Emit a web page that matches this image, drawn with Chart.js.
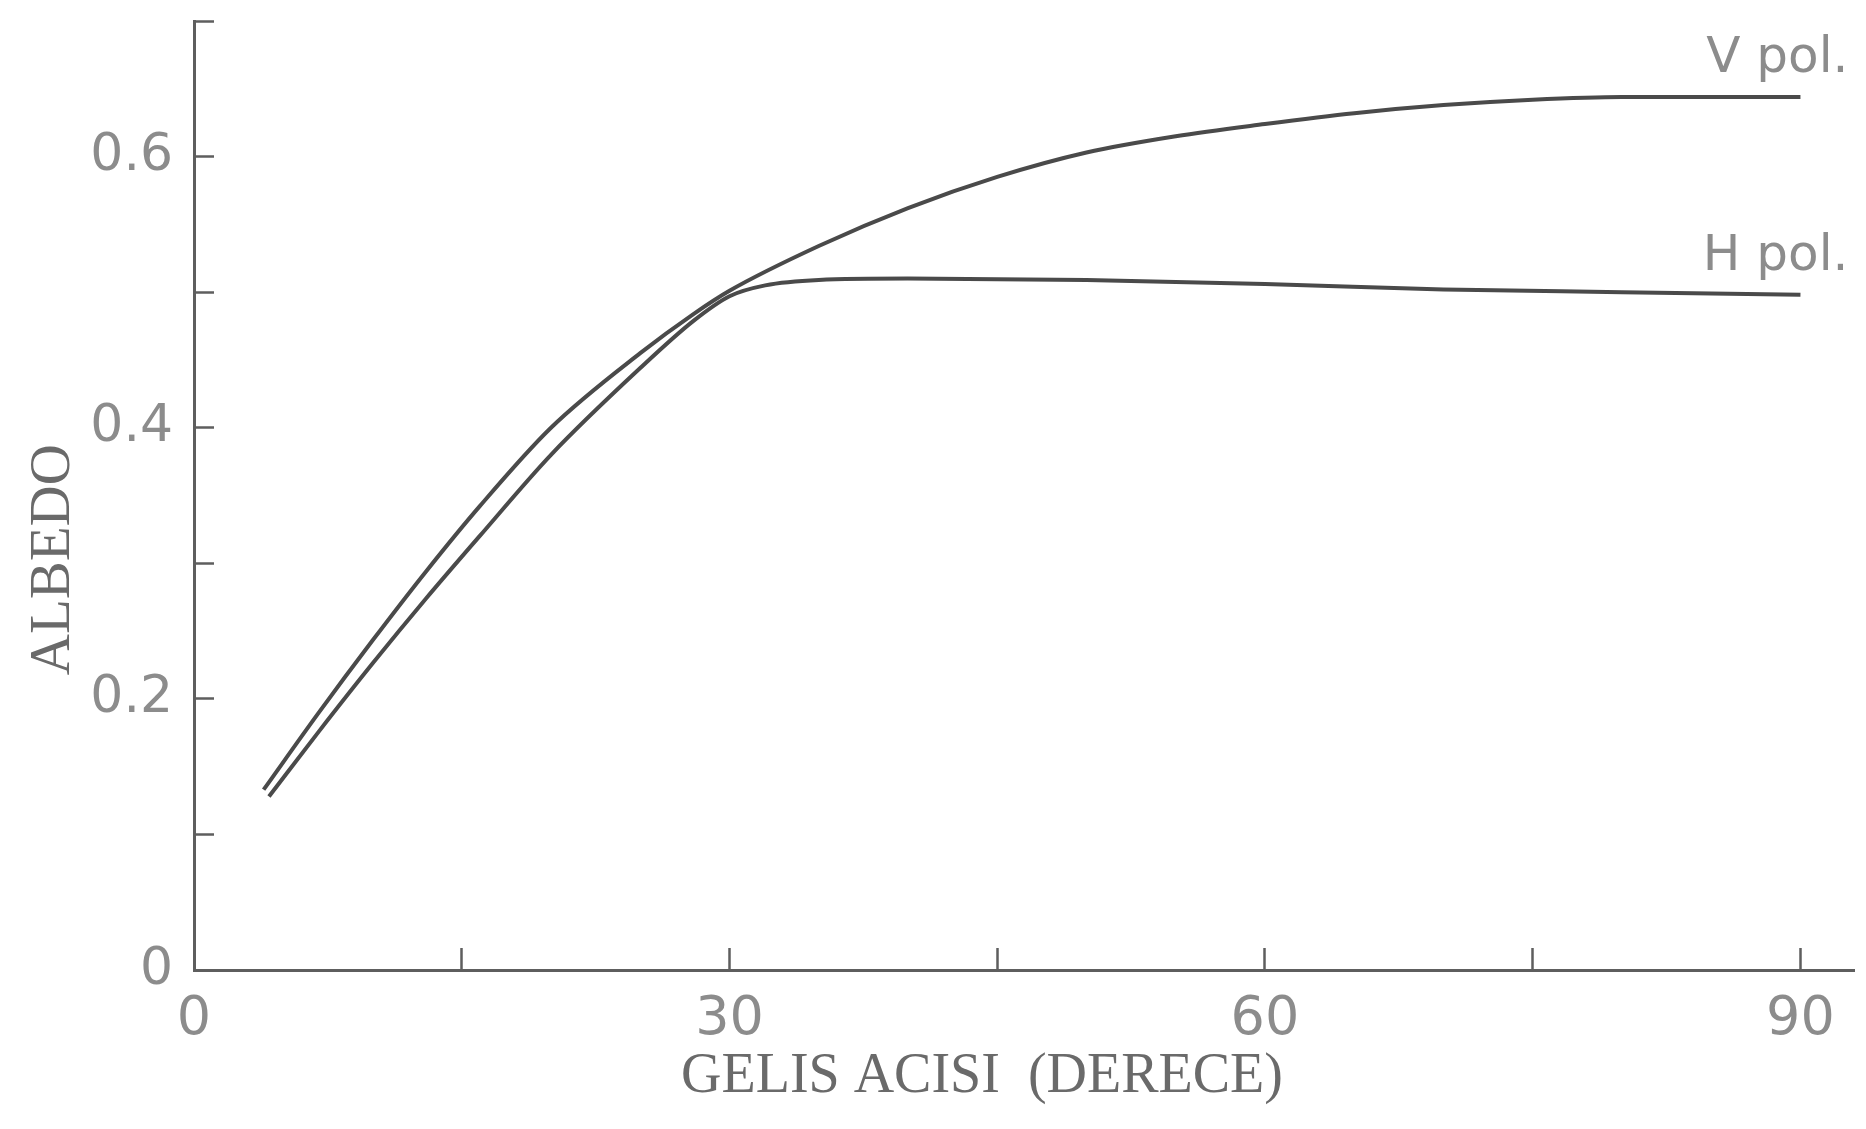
<!DOCTYPE html>
<html>
<head>
<meta charset="utf-8">
<script src="https://cdn.jsdelivr.net/npm/chart.js@4/dist/chart.umd.min.js"></script>
<style>
    body { margin: 0; background: #ffffff; }
    #wrap { width: 1866px; height: 1129px; }
</style>
</head>
<body>
<div id="wrap"><canvas id="albedoChart" width="1866" height="1129"></canvas></div>
<script>
//data

const vAngles = [3.9, 7, 10, 13, 16, 20, 25, 28, 30, 35, 40, 45, 50, 55, 60, 65, 70, 75, 80, 85, 90];
const vAlbedo = [0.133, 0.190, 0.243, 0.294, 0.342, 0.400, 0.455, 0.484, 0.501, 0.534, 0.562, 0.585, 0.603, 0.615, 0.624, 0.632, 0.638, 0.642, 0.644, 0.644, 0.644];

const hAngles = [4.2, 7, 10, 13, 16, 20, 25, 28, 30, 32, 35, 40, 50, 60, 70, 80, 90];
const hAlbedo = [0.128, 0.176, 0.226, 0.274, 0.320, 0.380, 0.444, 0.479, 0.497, 0.505, 0.509, 0.510, 0.509, 0.506, 0.502, 0.500, 0.498];

const seriesLabels = ['V pol.', 'H pol.'];
const xTickValues = [0, 15, 30, 45, 60, 75, 90];
const xLabelTicks = [0, 30, 60, 90]; //only these get a number
const yTickValues = [0, 0.1, 0.2, 0.3, 0.4, 0.5, 0.6, 0.7];
const yLabelTicks = [0, 0.2, 0.4, 0.6];

const xTitle = 'GELIS ACISI  (DERECE)';
const yTitle = 'ALBEDO';

//colors

const lineColor = '#4a4a4a';
const axisColor = '#5e5e5e';
const tickTextColor = '#8c8c8c';
const titleColor = '#6a6a6a';

const toPoints = (xs, ys) => xs.map((x, i) => ({ x: x, y: ys[i] }));

//write the series name just past the end of each curve
const endLabels = {
    id: 'endLabels',
    afterDatasetsDraw(chart) {
        const ctx = chart.ctx;
        chart.data.datasets.forEach((ds, i) => {
            const pts = chart.getDatasetMeta(i).data;
            const last = pts[pts.length - 1];
            ctx.save();
            ctx.font = '50px "DejaVu Sans"';
            ctx.fillStyle = tickTextColor;
            ctx.textAlign = 'right';
            ctx.textBaseline = 'alphabetic';
            ctx.fillText(ds.label, last.x + 48, last.y - 25);
            ctx.restore();
        });
    }
};

const nb = (n) => '\u00a0'.repeat(n);

const ctxLine = document.getElementById('albedoChart');

let albedoChart = new Chart(ctxLine, {
    type: 'line',
    data: {
        datasets: [
            {
                label: seriesLabels[0],
                data: toPoints(vAngles, vAlbedo),
                borderColor: lineColor,
                borderWidth: 4,
                pointRadius: 0,
                fill: false,
                cubicInterpolationMode: 'monotone'
            },
            {
                label: seriesLabels[1],
                data: toPoints(hAngles, hAlbedo),
                borderColor: lineColor,
                borderWidth: 4,
                pointRadius: 0,
                fill: false,
                cubicInterpolationMode: 'monotone'
            }
        ]
    },
    options: {
        responsive: false,
        animation: false,
        layout: {
            padding: { top: 21, right: 12, left: 0, bottom: 0 }
        },
        plugins: {
            legend: { display: false },
            tooltip: { enabled: false }
        },
        scales: {
            x: {
                type: 'linear',
                min: 0,
                max: 93,
                afterFit: (s) => {
                    s.height = 159;
                    s.paddingLeft = 0;
                    s.paddingRight = 0;
                },
                afterBuildTicks: (s) => { s.ticks = xTickValues.map(v => ({ value: v })); },
                border: { color: axisColor, width: 3 },
                grid: {
                    drawOnChartArea: false,
                    drawTicks: true,
                    tickLength: -22,
                    tickWidth: 2.5,
                    tickColor: axisColor
                },
                ticks: {
                    padding: 40,
                    color: tickTextColor,
                    font: { family: '"DejaVu Sans"', size: 54 },
                    maxRotation: 0,
                    autoSkip: false,
                    callback: (v) => xLabelTicks.includes(v) ? String(v) : ''
                },
                title: {
                    display: true,
                    text: xTitle + nb(6),
                    color: titleColor,
                    font: { family: '"Liberation Serif"', size: 56 },
                    padding: { top: 0, bottom: 18 }
                }
            },
            y: {
                type: 'linear',
                min: 0,
                max: 0.7,
                afterFit: (s) => {
                    s.width = 194;
                    s.paddingTop = 0;
                    s.paddingBottom = 0;
                },
                afterBuildTicks: (s) => { s.ticks = yTickValues.map(v => ({ value: v })); },
                border: { color: axisColor, width: 3 },
                grid: {
                    drawOnChartArea: false,
                    drawTicks: true,
                    tickLength: -20,
                    tickWidth: 2.5,
                    tickColor: axisColor
                },
                ticks: {
                    padding: 41,
                    color: tickTextColor,
                    font: { family: '"DejaVu Sans"', size: 52 },
                    autoSkip: false,
                    callback: (v) => {
                        let r = Math.round(v * 10) / 10;
                        if (!yLabelTicks.includes(r)) return '';
                        return r === 0 ? '0' : r.toFixed(1);
                    }
                },
                title: {
                    display: true,
                    text: yTitle + nb(9),
                    color: titleColor,
                    font: { family: '"Liberation Serif"', size: 57 },
                    padding: { top: 20, bottom: 0 }
                }
            }
        }
    },
    plugins: [endLabels]
});
</script>
</body>
</html>
